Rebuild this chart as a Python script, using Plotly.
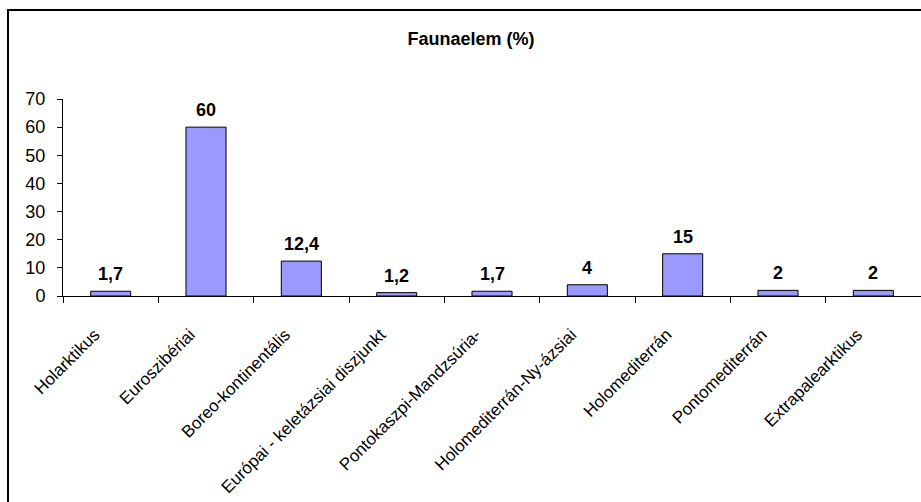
import plotly.graph_objects as go

categories = ["Holarktikus", "Euroszibériai", "Boreo-kontinentális",
              "Európai - keletázsiai diszjunkt", "Pontokaszpi-Mandzsúria-",
              "Holomediterrán-Ny-ázsiai", "Holomediterrán", "Pontomediterrán",
              "Extrapalearktikus"]
values = [1.7, 60, 12.4, 1.2, 1.7, 4, 15, 2, 2]
value_labels = ["1,7", "60", "12,4", "1,2", "1,7", "4", "15", "2", "2"]
y_ticks = [0, 10, 20, 30, 40, 50, 60, 70]
title_text = "Faunaelem (%)"

FONT = "Liberation Sans, Arial, sans-serif"

fig = go.Figure()
fig.add_trace(go.Bar(
    x=categories, y=values, width=0.42,
    marker=dict(color="#9999FF", line=dict(color="black", width=1)),
    hoverinfo="skip",
))

for c, v, t in zip(categories, values, value_labels):
    fig.add_annotation(x=c, y=v, text="<b>%s</b>" % t, showarrow=False,
                       yanchor="bottom", yshift=5,
                       font=dict(family=FONT, size=18, color="black"))

L, R, T, B, W, H = 63, 0, 99, 206, 921, 502
pw, ph = W - L - R, H - T - B
fig.add_shape(type="rect", xref="paper", yref="paper",
              x0=(8 - L) / pw, x1=1.1, y0=-1.5, y1=(H - B - 10) / ph,
              line=dict(color="black", width=2), fillcolor="rgba(0,0,0,0)",
              layer="below")

fig.update_layout(
    width=W, height=H,
    margin=dict(l=L, r=R, t=T, b=B, pad=0),
    paper_bgcolor="white", plot_bgcolor="white",
    showlegend=False,
    font=dict(family=FONT, color="black"),
    title=dict(text="<b>%s</b>" % title_text, xref="container", yref="container",
               x=471 / W, y=1 - 39 / H, xanchor="center", yanchor="middle",
               font=dict(family=FONT, size=18, color="black")),
    xaxis=dict(
        showline=True, linecolor="black", linewidth=1,
        ticks="outside", tickson="boundaries", ticklen=6, tickcolor="black",
        tickangle=-45, tickfont=dict(family=FONT, size=17, color="black"),
        showgrid=False, zeroline=False, fixedrange=True,
        ticklabelstandoff=21, ticklabelshift=-16,
    ),
    yaxis=dict(
        range=[0, 70], tickvals=y_ticks, ticktext=[str(v) for v in y_ticks],
        showline=True, linecolor="black", linewidth=1,
        ticks="outside", ticklen=5, tickcolor="black",
        tickfont=dict(family=FONT, size=18, color="black"),
        showgrid=False, zeroline=False, fixedrange=True,
        ticklabelstandoff=8,
    ),
)

fig.write_html("out.html")
